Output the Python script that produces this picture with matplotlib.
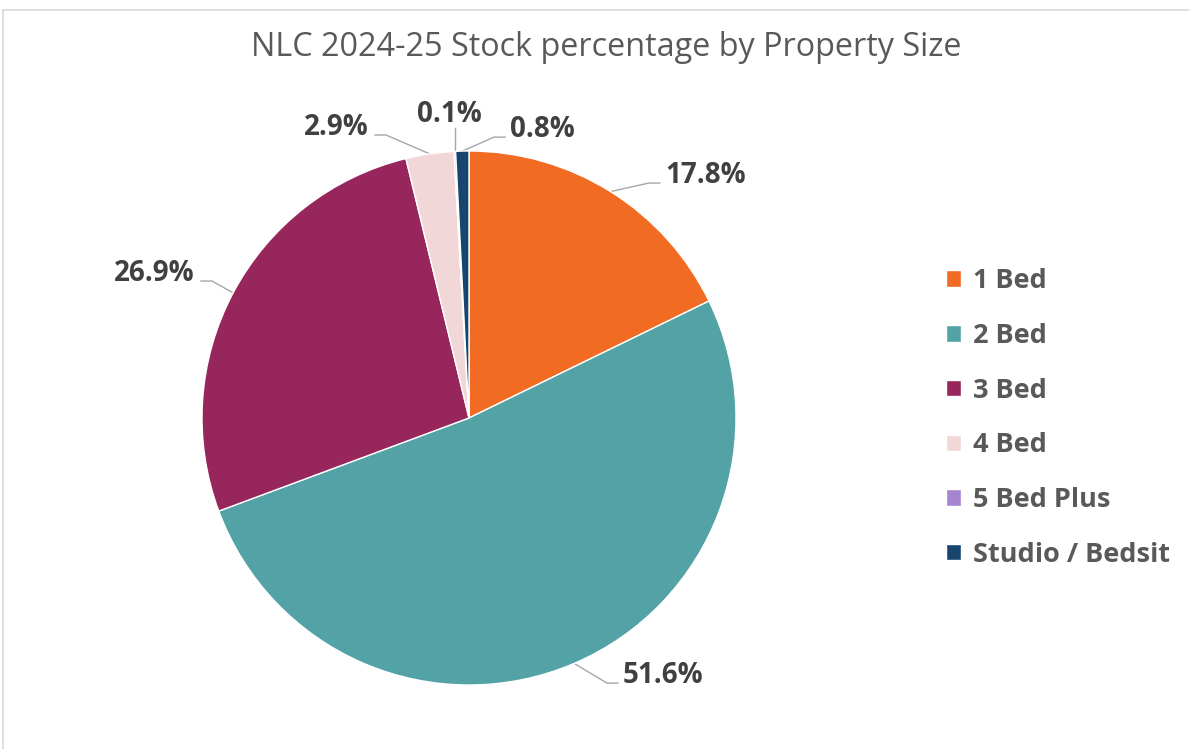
import numpy as np
import matplotlib
matplotlib.use("Agg")
import matplotlib.pyplot as plt
from matplotlib.lines import Line2D

# data
categories = ["1 Bed", "2 Bed", "3 Bed", "4 Bed", "5 Bed Plus", "Studio / Bedsit"]
shares = [17.8, 51.6, 26.9, 2.9, 0.1, 0.8]
labels = ["17.8%", "51.6%", "26.9%", "2.9%", "0.1%", "0.8%"]
colours = ["#F26B23", "#52A2A6", "#97265C", "#F2D7D9", "#A585D0", "#17456E"]

# where the leader line ends next to each label (in units of the pie radius) and which side the text sits
label_end = [(0.715, 0.880), (0.558, -0.993), (-1.004, 0.513), (-0.352, 1.060), (None, 1.086), (0.135, 1.052)]
label_side = ["right", "right", "left", "left", "top", "right"]

plt.rcParams['font.family'] = ['Open Sans', 'DejaVu Sans']

W, H = 1189, 749
fig = plt.figure(figsize=(W / 100, H / 100), dpi=100)
fig.patch.set_facecolor("white")

# light chart border (left and top edges visible)
fig.add_artist(Line2D([3 / W, 3 / W], [0, 1 - 10 / H], color="#D9D9D9", lw=1.2))
fig.add_artist(Line2D([3 / W, 1], [1 - 10 / H, 1 - 10 / H], color="#D9D9D9", lw=1.2))

fig.text(606 / W, 1 - 48 / H, "NLC 2024-25 Stock percentage by Property Size",
         ha="center", va="center", fontsize=23.3, color="#595959")

# pie axes: centre (469, 418) px, radius 267 px
cx, cy, r = 469, 418, 267
ax = fig.add_axes([(cx - r) / W, (H - cy - r) / H, 2 * r / W, 2 * r / H])
wedges, _ = ax.pie(shares, colors=colours, startangle=90, counterclock=False, radius=1,
                   wedgeprops=dict(edgecolor="white", linewidth=1.0))
ax.set_xlim(-1, 1)
ax.set_ylim(-1, 1)
ax.set_aspect("equal")
ax.axis("off")

# leader lines + data labels
elbow = 11 / r
gap = 5 / r
for w, lab, end, side in zip(wedges, labels, label_end, label_side):
    mid = np.deg2rad((w.theta1 + w.theta2) / 2)
    px, py = np.cos(mid), np.sin(mid)
    ex, ey = end
    if side == "top":
        ex = px
        line_x, line_y = [px, ex], [py, ey]
        ax.text(ex - 5 / r, ey + 6 / r, lab, ha="center", va="baseline", fontsize=20,
                fontweight="bold", color="#404040", clip_on=False)
    elif side == "right":
        line_x, line_y = [px, ex - elbow, ex], [py, ey, ey]
        ax.text(ex + gap, ey, lab, ha="left", va="baseline", fontsize=20,
                fontweight="bold", color="#404040", clip_on=False)
    else:
        line_x, line_y = [px, ex + elbow, ex], [py, ey, ey]
        ax.text(ex - gap * 1.3, ey, lab, ha="right", va="baseline", fontsize=20,
                fontweight="bold", color="#404040", clip_on=False)
    ax.plot(line_x, line_y, color="#A6A6A6", lw=1.0, clip_on=False, zorder=0)

fig.legend(wedges, categories, loc="center left", bbox_to_anchor=(946 / W, 1 - 418 / H),
           frameon=False, borderpad=0, borderaxespad=0,
           handlelength=0.56, handleheight=0.56, handletextpad=0.42, labelspacing=1.06,
           prop=dict(family="Open Sans", weight="bold", size=19.5), labelcolor="#595959")

fig.savefig("out.png", dpi=100)
